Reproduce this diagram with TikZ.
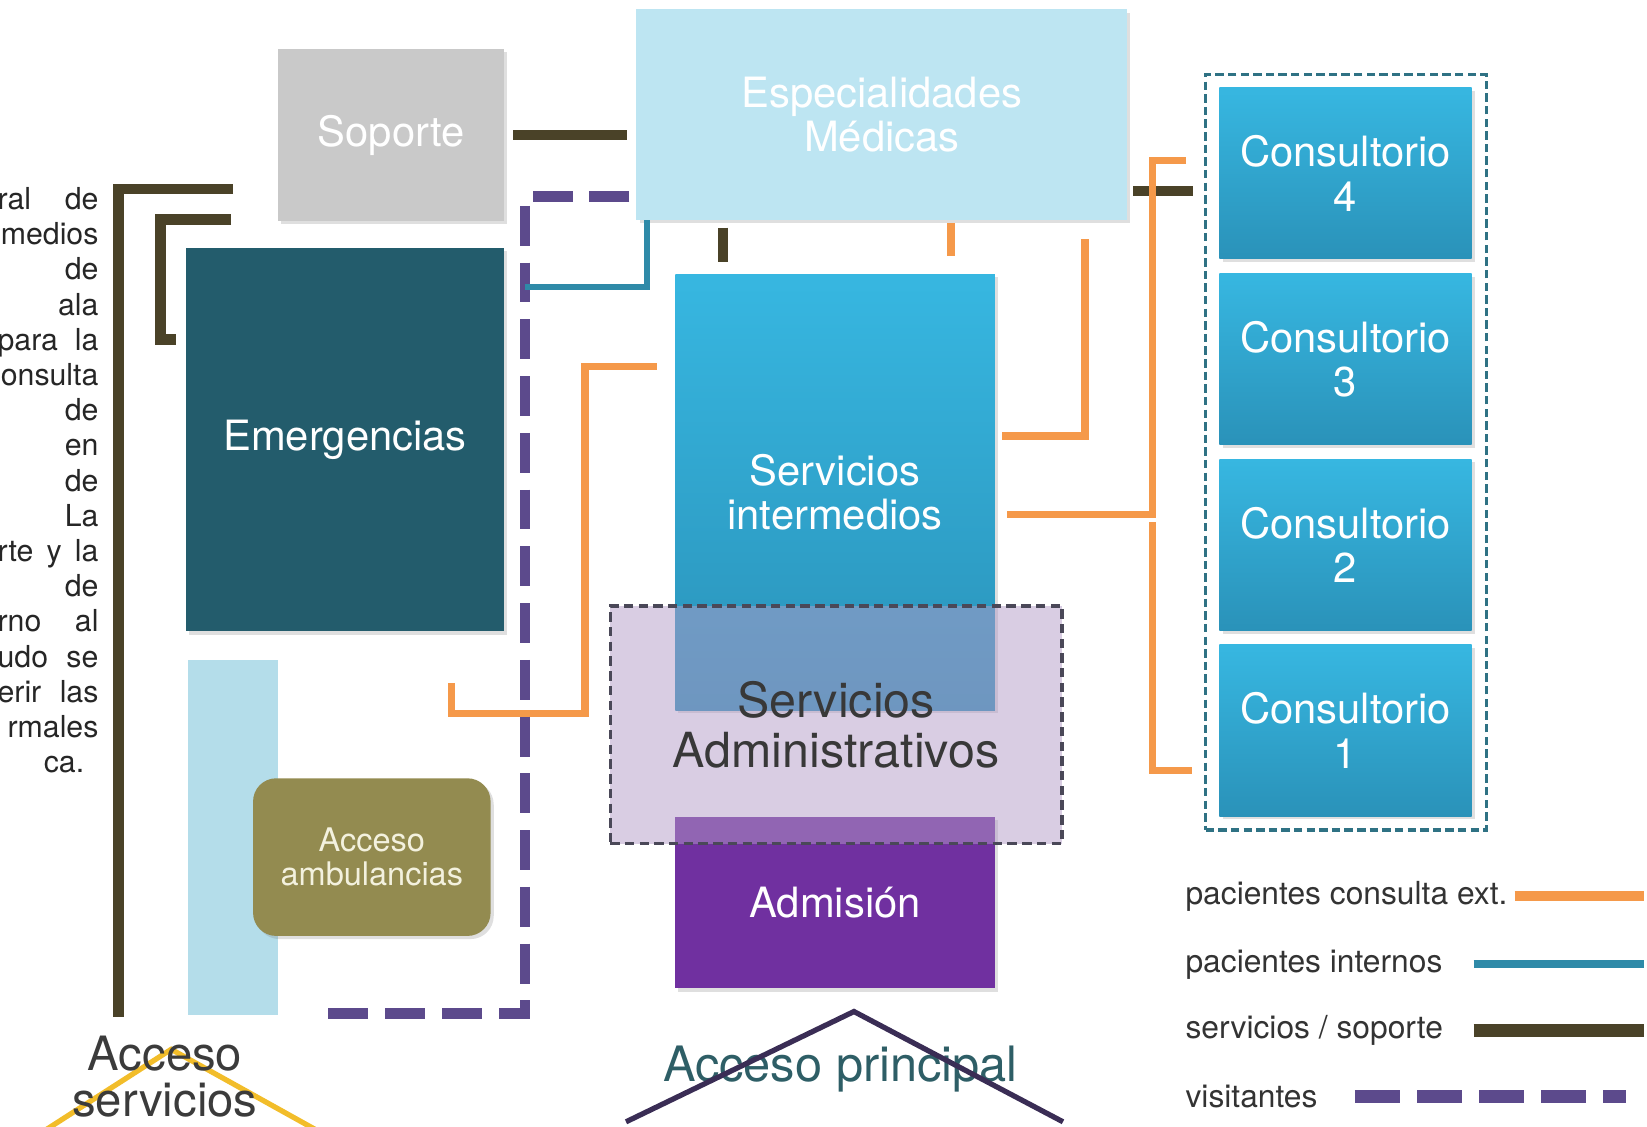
\documentclass[tikz,border=0pt]{standalone}
\usepackage{fontspec}
\setmainfont{TeX Gyre Heros}
\usetikzlibrary{positioning,shadows}

\definecolor{especblue}{HTML}{BDE5F2}
\definecolor{soportegray}{HTML}{C9C9C9}
\definecolor{emergteal}{HTML}{235C6C}
\definecolor{midblue}{HTML}{37B7E1}
\definecolor{deepblue}{HTML}{2A92B9}
\definecolor{adminlila}{HTML}{B39BC7}
\definecolor{adminedge}{HTML}{4A4858}
\definecolor{admpurple}{HTML}{7030A0}
\definecolor{ambuolive}{HTML}{938B50}
\definecolor{ambutext}{HTML}{F3F1DE}
\definecolor{stripblue}{HTML}{B4DDEA}
\definecolor{frameteal}{HTML}{2F7284}
\definecolor{servbrown}{HTML}{4A4228}
\definecolor{interncol}{HTML}{2F8AA8}
\definecolor{extorange}{HTML}{F5994A}
\definecolor{visitpurple}{HTML}{5C4A8C}
\definecolor{roofdark}{HTML}{3A2D55}
\definecolor{roofyellow}{HTML}{F2BD2A}
\definecolor{accesotext}{HTML}{2E5E66}

\begin{document}
\begin{tikzpicture}[x=0.01cm, y=-0.01cm, node distance=1.767cm]
	\tikzstyle{box} = [rectangle, inner sep=0pt, align=center, text=white, font=\fontsize{11.3}{12}\selectfont]
	\tikzstyle{area} = [box, drop shadow={opacity=0.25, shadow xshift=0.03cm, shadow yshift=-0.03cm}]
	\tikzstyle{consult} = [area, minimum width=2.4cm, minimum height=1.63cm, top color=midblue, bottom color=deepblue]
	\tikzstyle{serv} = [draw=servbrown, line width=0.1cm]
	\tikzstyle{intern} = [draw=interncol, line width=0.06cm]
	\tikzstyle{ext} = [draw=extorange, line width=0.07cm]
	\tikzstyle{visit} = [draw=visitpurple, line width=0.1cm, dash pattern=on 0.38cm off 0.16cm]
	\tikzstyle{legtext} = [anchor=west, inner sep=0pt, text=black!80, font=\fontsize{8.6}{10}\selectfont]
	\tikzstyle{partext} = [anchor=base west, inner sep=0pt, text=black!85, font=\fontsize{8.2}{9.5}\selectfont]

	\useasboundingbox (0,0) rectangle (1568,1072);

	% cut paragraph on the left
	\foreach \txt [count=\i] in {{ral de}, {\hfill medios}, {\hfill de}, {\hfill ala}, {para la}, {\hfill onsulta}, {\hfill de}, {\hfill en}, {\hfill de}, {\hfill La}, {rte y la}, {\hfill de}, {rno al}, {udo se}, {erir las}, {\hfill rmales}, {\hspace*{0.44cm}ca.\hfill}}
		\node[partext] (par\i) at (-3,{166+33.5*\i}) {\makebox[0.96cm][s]{\txt}};

	% areas
	\node[box, fill=stripblue, minimum width=0.86cm, minimum height=3.38cm] (strip) at (222,797) {};
	\node[area, fill=ambuolive, text=ambutext, rounded corners=0.22cm, minimum width=2.26cm, minimum height=1.5cm, font=\fontsize{8.8}{9.1}\selectfont] (ambul) at (354,816) {Acceso\\ambulancias};
	\node[area, fill=emergteal, minimum width=3.03cm, minimum height=3.65cm] (emerg) at (328.5,418.5) {Emergencias};
	\node[area, fill=soportegray, minimum width=2.15cm, minimum height=1.63cm] (soporte) at (372.5,128.5) {Soporte};
	\node[area, fill=especblue, minimum width=4.67cm, minimum height=2cm] (espec) at (839.5,109) {Especialidades\\Médicas};
	\node[area, top color=midblue, bottom color=deepblue, minimum width=3.04cm, minimum height=4.15cm] (serint) at (795,468.5) {Servicios\\intermedios};
	\node[area, fill=admpurple, minimum width=3.04cm, minimum height=1.63cm] (admision) at (795,859.5) {Admisión};
	\node[box, fill=adminlila, fill opacity=0.5, text opacity=1, draw=adminedge, line width=0.03cm, dash pattern=on 0.09cm off 0.05cm, minimum width=4.3cm, minimum height=2.26cm, text=black!78, font=\fontsize{13.1}{13.7}\selectfont] (admin) at (796,690) {Servicios\\Administrativos};

	% consultorios
	\node[box, draw=frameteal, line width=0.03cm, dash pattern=on 0.08cm off 0.04cm, minimum width=2.67cm, minimum height=7.19cm] (cframe) at (1281.5,430.5) {};
	\node[consult] (cons4) at (1281,165) {Consultorio\\4};
	\node[consult, below of=cons4] (cons3) {Consultorio\\3};
	\node[consult, below of=cons3] (cons2) {Consultorio\\2};
	\node[consult, below of=cons2] (cons1) {Consultorio\\1};

	% servicios / soporte
	\coordinate (servtop) at (222,180);
	\coordinate (servbot) at (113,968);
	\coordinate (emtop) at (220,209);
	\coordinate (embend) at (153,323);
	\draw[serv, shorten <=0.08cm, shorten >=0.08cm] (soporte.east) -- (soporte.east -| espec.west);
	\draw[serv] (servtop) -| (servbot);
	\draw[serv, shorten >=0.09cm] (emtop) -| (embend) -- (embend -| emerg.west);
	\draw[serv, shorten <=0.07cm, shorten >=0.11cm] ([xshift=0.83cm]espec.south west) -- ([xshift=0.83cm]espec.south west |- serint.north);
	\draw[serv, shorten <=0.05cm, shorten >=0.11cm] ([yshift=-0.73cm]espec.east) -- ([yshift=-0.73cm]espec.east -| cframe.west);

	% pacientes consulta ext.
	\coordinate (extR) at (1033,228);
	\coordinate (extJ) at (1097,490);
	\coordinate (extL) at (557,679);
	\coordinate (extLend) at (430,650);
	\draw[ext, shorten <=0.03cm, shorten >=0.16cm] ([xshift=3cm]espec.south west) -- ([xshift=3cm]espec.south west |- serint.north);
	\draw[ext] (extR) |- ([xshift=0.06cm, yshift=0.535cm]serint.east);
	\draw[ext] ([xshift=-0.31cm, yshift=0.12cm]cons4.west) -| (extJ) -- ([xshift=0.11cm]serint.east |- extJ);
	\draw[ext] ([yshift=-0.07cm]extJ) |- ([xshift=-0.25cm, yshift=-0.38cm]cons1.west);
	\draw[ext] ([xshift=-0.17cm, yshift=1.195cm]serint.west) -| (extL) -| (extLend);

	% visitantes
	\coordinate (visB) at (500,187);
	\coordinate (visC) at (500,965);
	\coordinate (visD) at (305,965);
	\draw[visit] ([xshift=-0.06cm]espec.west |- visB) -- (visB) -- (visC) -- (visD);

	% pacientes internos
	\coordinate (intend) at (500,273);
	\draw[intern] ([xshift=0.11cm]espec.south west) |- (intend);

	% legend
	\node[legtext] (lgext) at (1128,853) {pacientes consulta ext.};
	\node[legtext] (lgint) at (1128,918) {pacientes internos};
	\node[legtext] (lgserv) at (1128,981) {servicios / soporte};
	\node[legtext] (lgvis) at (1128,1044) {visitantes};
	\draw[ext, line width=0.1cm] (1442,0 |- lgext.east) -- (1565,0 |- lgext.east);
	\draw[intern, line width=0.08cm] (1403,0 |- lgint.east) -- (1565,0 |- lgint.east);
	\draw[serv, line width=0.12cm] (1403,0 |- lgserv.east) -- (1565,0 |- lgserv.east);
	\draw[visit, line width=0.12cm, dash pattern=on 0.43cm off 0.16cm] (1290,0 |- lgvis.east) -- (1548,0 |- lgvis.east);

	% accesos
	\coordinate (yroofL) at (40,1078);
	\coordinate (yroofpeak) at (163,999);
	\coordinate (yroofR) at (305,1078);
	\draw[draw=roofyellow, line width=0.05cm] (yroofL) -- (yroofpeak) -- (yroofR);
	\node[inner sep=0pt, align=center, text=black!77, font=\fontsize{12.8}{12.3}\selectfont] (accserv) at (157,1025) {Acceso\\servicios};
	\node[inner sep=0pt, anchor=base, text=accesotext, font=\fontsize{13.2}{14}\selectfont] (accprin) at (800,1030) {Acceso principal};
	\coordinate (droofL) at (596,1068);
	\coordinate (droofpeak) at (813,963);
	\coordinate (droofR) at (1012,1068);
	\draw[draw=roofdark, line width=0.05cm] (droofL) -- (droofpeak) -- (droofR);
\end{tikzpicture}
\end{document}
